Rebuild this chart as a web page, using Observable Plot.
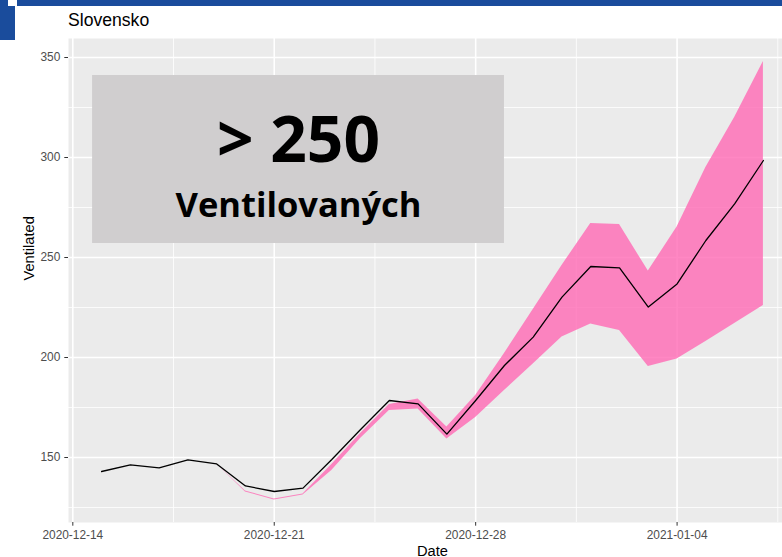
<!DOCTYPE html>
<html><head><meta charset="utf-8">
<script src="https://cdn.jsdelivr.net/npm/d3@7"></script>
<script src="https://cdn.jsdelivr.net/npm/@observablehq/plot@0.6"></script>
<style>
html,body{margin:0;padding:0;background:#fff;overflow:hidden;width:782px;height:557px;}
#wrap{position:relative;width:782px;height:557px;overflow:hidden;}
.bar{position:absolute;background:#1a4c9c;}
#title{position:absolute;left:68px;top:10px;font-size:17.6px;font-family:"Liberation Sans",Arial,sans-serif;color:#000;line-height:normal;}
#chart{position:absolute;left:0;top:0;width:796px;}
#chart svg{max-width:none !important;}
</style></head><body>
<div id="wrap">
<div id="chart"></div>
<div class="bar" style="left:17px;top:0;width:765px;height:6px"></div>
<div class="bar" style="left:0;top:0;width:8px;height:6px"></div>
<div class="bar" style="left:0;top:6px;width:15px;height:34px"></div>
<div id="title">Slovensko</div>
</div>
<script>
// ---- data ----
const dates = ["2020-12-15","2020-12-16","2020-12-17","2020-12-18","2020-12-19","2020-12-20",
  "2020-12-21","2020-12-22","2020-12-23","2020-12-24","2020-12-25","2020-12-26","2020-12-27",
  "2020-12-28","2020-12-29","2020-12-30","2020-12-31","2021-01-01","2021-01-02","2021-01-03",
  "2021-01-04","2021-01-05","2021-01-06","2021-01-07"];
const ventilated = [143, 146.3, 144.8, 148.8, 146.8, 135.8, 133, 134.7, 149, 164, 178.5, 176.8,
  161.7, 178.5, 196, 210.2, 230.2, 245.5, 244.8, 225.2, 236.8, 258.5, 276.8, 298.5];
const lower = [null, null, null, null, 146.8, 132.8, 128.8, 131.3, 143.5, 159.5, 173.5, 174.3,
  159.3, 170, 183.5, 196.8, 210.2, 216.8, 213.5, 195.5, 199.3, 208, 217, 226];
const upper = [null, null, null, null, 146.8, 133.3, 129.3, 131.8, 146.5, 162, 176.5, 179.3,
  165.2, 181, 202, 224, 246, 267, 266.5, 243.2, 265.2, 295, 320, 348];
const xTicks = ["2020-12-14","2020-12-21","2020-12-28","2021-01-04"];
const xMinor = ["2020-12-17T12:00","2020-12-24T12:00","2020-12-31T12:00","2021-01-07T12:00"];
const yTicks = [150, 200, 250, 300, 350];
const yMinor = [125, 175, 225, 275, 325];
const headline = "> 250";
const subline = "Ventilovaných";
const box = {x1: "2020-12-14T16:30", x2: "2020-12-29T00:00", y1: 257, y2: 341,
  xc: "2020-12-21T20:15", yHead: 298, ySub: 270.25};

// ---- build ----
const D = s => new Date(s + (s.length > 10 ? "Z" : "T00:00Z"));
const data = dates.map((d, i) => ({date: D(d), value: ventilated[i], lo: lower[i], hi: upper[i]}));
const xDomain = [new Date(D("2020-12-15") - 1.15 * 864e5), new Date(+D("2021-01-07") + 1.15 * 864e5)];

const chart = Plot.plot({
  width: 796, height: 557,
  marginLeft: 68, marginRight: 0, marginTop: 38, marginBottom: 35,
  style: {fontFamily: '"Liberation Sans", Arial, sans-serif', background: "transparent", overflow: "visible", maxWidth: "none"},
  x: {type: "utc", domain: xDomain, label: null},
  y: {domain: [117.5, 359.5], label: null},
  marks: [
    Plot.frame({fill: "#ebebeb", stroke: "none"}),
    Plot.ruleY(yMinor, {stroke: "#fff", strokeWidth: 0.8}),
    Plot.ruleX(xMinor.map(D), {stroke: "#fff", strokeWidth: 0.8}),
    Plot.ruleY(yTicks, {stroke: "#fff", strokeWidth: 1.6}),
    Plot.ruleX(xTicks.map(D), {stroke: "#fff", strokeWidth: 1.6}),
    Plot.areaY(data, {x: "date", y1: "lo", y2: "hi", fill: "#ff69b4", fillOpacity: 0.8}),
    Plot.lineY(data, {x: "date", y: "value", stroke: "#000", strokeWidth: 1.3}),
    Plot.rect([box], {x1: d => D(d.x1), x2: d => D(d.x2), y1: "y1", y2: "y2", fill: "#d0cecf"}),
    Plot.text([box], {x: d => D(d.xc), y: "yHead", text: () => headline, lineAnchor: "bottom",
      fontSize: 64, fontWeight: "bold", fontFamily: '"Open Sans", sans-serif', fill: "#000"}),
    Plot.text([box], {x: d => D(d.xc), y: "ySub", text: () => subline, lineAnchor: "bottom",
      fontSize: 34.5, fontWeight: "bold", fontFamily: '"Open Sans", sans-serif', fill: "#000"}),
    Plot.axisX(xTicks.map(D), {tickFormat: d3.utcFormat("%Y-%m-%d"), tickSize: 3.7, tickPadding: 4.5,
      stroke: "#333", fill: "#4d4d4d", fontSize: 11.9, label: null}),
    Plot.axisY(yTicks, {tickSize: 3.7, tickPadding: 4.5, stroke: "#333", fill: "#4d4d4d",
      fontSize: 11.9, label: null}),
    Plot.text(["Date"], {frameAnchor: "bottom", dy: 33, lineAnchor: "bottom", fontSize: 14.67, fill: "#000", text: d => d}),
    Plot.text(["Ventilated"], {frameAnchor: "left", dx: -34.5, rotate: -90, lineAnchor: "bottom", fontSize: 14.67, fill: "#000", text: d => d})
  ]
});
document.getElementById("chart").appendChild(chart);
</script>
</body></html>
